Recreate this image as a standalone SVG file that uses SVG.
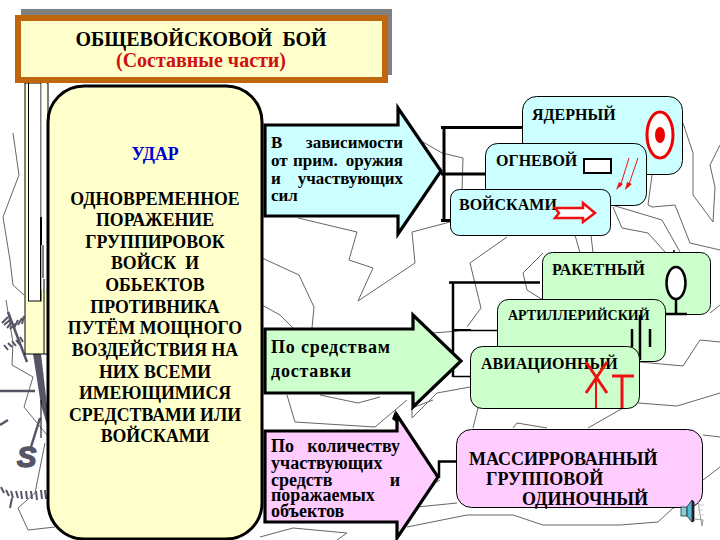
<svg xmlns="http://www.w3.org/2000/svg" width="720" height="540" viewBox="0 0 720 540">
<style>
text{font-family:"Liberation Serif","Times New Roman",serif;font-weight:bold;fill:#000}
.bg{fill:none;stroke:#666;stroke-width:1}
.mark{fill:none;stroke:#555566}
.conn{fill:none;stroke:#000}
.c{fill:#CCFFFF;stroke:#000;stroke-width:1}
.g{fill:#CCFFCC;stroke:#000;stroke-width:1}
.p{fill:#FFCCFF;stroke:#000;stroke-width:1}
.ar{stroke:#000;stroke-width:3.200;stroke-linejoin:miter}
.lb{font-size:16px}
.main{font-size:17.800px;text-anchor:middle}
.at{font-size:17px}
.aq{font-size:18px}
.red{fill:none;stroke:#EE1111}
</style>
<rect width="720" height="540" fill="#fff"/>
<g id="background">
<polyline class="bg" points="423,142 442,153 463,158 462,190"/>
<polyline class="bg" points="298,218 357,232 349,260 373,268 358,301 415,263 412,232 450,222"/>
<polyline class="bg" points="262,258 299,275 314,307 312,328"/>
<polyline class="bg" points="262,305 280,315 293,328"/>
<polyline class="bg" points="287,395 295,422 375,427 407,400"/>
<polyline class="bg" points="320,395 358,403 380,397"/>
<polyline class="bg" points="412,418 412,408 433,400"/>
<polyline class="bg" points="412,418 437,393 470,387"/>
<polyline class="bg" points="433,333 458,331"/>
<polyline class="bg" points="507,237 470,263 481,308 467,327"/>
<polyline class="bg" points="543,253 523,273 527,290 543,300"/>
<polyline class="bg" points="640,362 683,366 700,340 720,342"/>
<polyline class="bg" points="638,403 677,406 720,393"/>
<polyline class="bg" points="478,408 473,428"/>
<polyline class="bg" points="588,428 623,408"/>
<polyline class="bg" points="513,428 517,423 547,428"/>
<polyline class="bg" points="703,435 720,437"/>
<polyline class="bg" points="703,480 720,467"/>
<polyline class="bg" points="440,480 417,493"/>
<polyline class="bg" points="457,503 407,508"/>
<polyline class="bg" points="407,527 467,515 513,515 543,525 620,525 658,522 673,508 690,503"/>
<polyline class="bg" points="260,537 293,528 347,533 337,540"/>
<polyline class="bg" points="683,123 693,153 693,195 713,222 715,187 710,165 720,145"/>
<polyline class="bg" points="652,175 648,205 652,207 675,205 690,243 720,250"/>
<polyline class="bg" points="612,205 662,220 680,252"/>
<polyline class="bg" points="613,207 622,228 648,233 665,252"/>
<polyline class="bg" points="575,235 580,253"/>
<polyline class="bg" points="591,235 593,253"/>
<polyline class="bg" points="710,313 720,305"/>
<polyline class="bg" points="13,133 19,175 3,217 10,260 13,285 24,295"/>
<polyline class="bg" points="47,162 30,185 40,243 47,247"/>
<polyline class="bg" points="6,300 13,343 12,365 33,377 24,407 47,435"/>
<polyline class="bg" points="45,443 35,493 18,508 28,530 55,527"/>
<g id="compass">
<polygon points="33,354 41,354 47,405 47,425 41,405" fill="#555566"/>
<path class="mark" stroke-width="2.500" d="M0 391H35M0 425L8 420M40 418L31 447M8 312L27 362"/>
<path class="mark" stroke-width="2" d="M2 323L8 317M4 325L10 320M7 328L12 322M10 329L15 324M14 328L18 320M18 325L22 318M22 324L24 316M4 345L8 350M8 343L12 347M12 341L16 346M16 340L20 345M20 337L23 342M1 487L4 493M6 490L9 496M11 491L13 498M16 491L18 498M21 491L22 499M26 491L27 499M31 491L32 499M36 491L37 500M41 490L42 499M45 490L46 499M12 498L10 508"/>
<text x="17" y="467" font-size="29" style="font-family:'Liberation Sans',sans-serif;font-style:italic;fill:#555566;stroke:#555566;stroke-width:1.500">S</text>
</g>
<rect x="25" y="83" width="23" height="271" fill="#FFFFCC" stroke="#000"/>
<rect x="28.500" y="83" width="12.500" height="218" fill="#fff" stroke="#000"/>
<rect x="41.500" y="83" width="5" height="207" fill="#fff"/>
<path class="conn" stroke-width="1" d="M40.500 217V301M43 245V278M44 279V354"/>
<path class="conn" stroke-width="2" d="M41 217V245"/>
<path class="conn" stroke-width="1" d="M41 400V438"/>
<path d="M395 411L399 424L392 419Z" fill="#000"/>
</g>
<g id="title">
<rect x="21" y="9" width="371" height="66" fill="#808080"/>
<rect x="18" y="18" width="367" height="62" fill="#FFFFCC" stroke="#C0660F" stroke-width="6"/>
<text x="201" y="46" font-size="20" text-anchor="middle" xml:space="preserve">ОБЩЕВОЙСКОВОЙ  БОЙ</text>
<text x="201" y="67" font-size="20" text-anchor="middle" style="fill:#D01010">(Составные части)</text>
</g>
<g id="connectors">
<path class="conn" stroke-width="3" d="M441 127.500H523M444 127V222M441 174H486M441 220.500H451"/>
<path class="conn" stroke-width="2.500" d="M449 282.500H540M453 282V377"/>
<path class="conn" stroke-width="1.500" d="M453 330.500H501M453 376.500H473"/>
<path class="conn" stroke-width="2" d="M453 330H471"/>
<path class="conn" stroke-width="2.500" d="M439 478V461.500H458"/>
</g>
<g id="main-block">
<rect x="48" y="86" width="214" height="453" rx="36" ry="36" fill="#FFFFCC" stroke="#000" stroke-width="3"/>
<text class="main" x="155" y="160" style="fill:#0000CC">УДАР</text>
<text class="main" x="155" y="205">ОДНОВРЕМЕННОЕ</text>
<text class="main" x="155" y="226">ПОРАЖЕНИЕ</text>
<text class="main" x="155" y="248">ГРУППИРОВОК</text>
<text class="main" x="155" y="269" xml:space="preserve">ВОЙСК  И</text>
<text class="main" x="155" y="291">ОБЬЕКТОВ</text>
<text class="main" x="155" y="313">ПРОТИВНИКА</text>
<text class="main" x="155" y="334">ПУТЁМ МОЩНОГО</text>
<text class="main" x="155" y="356">ВОЗДЕЙСТВИЯ НА</text>
<text class="main" x="155" y="378">НИХ ВСЕМИ</text>
<text class="main" x="155" y="399">ИМЕЮЩИМИСЯ</text>
<text class="main" x="155" y="421">СРЕДСТВАМИ ИЛИ</text>
<text class="main" x="155" y="442">ВОЙСКАМИ</text>
</g>
<g id="arrow-weapon">
<polygon class="ar" fill="#CCFFFF" points="265,125 398,125 398,108 441,171 398,234 398,216 265,216"/>
<text class="at" x="271" y="148">В</text><text class="at" x="403" y="148" text-anchor="end">зависимости</text>
<text class="at" x="271" y="166">от</text><text class="at" x="293" y="166">прим.</text><text class="at" x="403" y="166" text-anchor="end">оружия</text>
<text class="at" x="271" y="184">и</text><text class="at" x="403" y="184" text-anchor="end">участвующих</text>
<text class="at" x="271" y="201">сил</text>
</g>
<g id="arrow-delivery">
<polygon class="ar" fill="#CCFFCC" points="265,329 413,329 413,315 461,361 413,407 413,393 265,393"/>
<text x="271" y="353" font-size="18" letter-spacing=".8">По средствам</text>
<text x="271" y="377" font-size="18" letter-spacing=".8">доставки</text>
</g>
<g id="arrow-quantity">
<polygon class="ar" fill="#FFCCFF" points="265,431 397,431 397,415 438,477 397,538 397,522 265,522"/>
<text class="aq" x="271" y="452">По</text><text class="aq" x="400" y="452" text-anchor="end">количеству</text>
<text class="aq" x="271" y="469">участвующих</text>
<text class="aq" x="271" y="486">средств</text><text class="aq" x="400" y="486" text-anchor="end">и</text>
<text class="aq" x="271" y="501">поражаемых</text>
<text class="aq" x="271" y="517">объектов</text>
</g>
<g id="node-nuclear">
<rect class="c" x="522.500" y="96.500" width="160" height="78" rx="14"/>
<text class="lb" x="532" y="120">ЯДЕРНЫЙ</text>
<ellipse cx="660" cy="135" rx="13" ry="23" fill="#fff" stroke="#EE0000" stroke-width="3"/>
<ellipse cx="660" cy="135" rx="5" ry="8" fill="#EE0000"/>
</g>
<g id="node-fire">
<rect class="c" x="485.500" y="143.500" width="161" height="62" rx="12"/>
<text class="lb" x="496" y="166">ОГНЕВОЙ</text>
<rect x="584" y="159" width="27" height="14" fill="#fff" stroke="#000" stroke-width="2"/>
<path class="red" d="M629 158L620 187M638 158L628 187"/>
<path fill="#EE1111" d="M616 190L619 182L623 184ZM625 190L627 182L632 184Z"/>
</g>
<g id="node-troops">
<rect class="c" x="450.500" y="189.500" width="160" height="46" rx="9"/>
<text class="lb" x="459" y="210">ВОЙСКАМИ</text>
<polygon points="555,208 583,208 583,203 595,213 583,222 583,218 555,218 559,213" fill="#fff" stroke="#EE1111" stroke-width="2.500"/>
</g>
<g id="node-missile">
<rect class="g" x="542.500" y="252.500" width="168" height="62" rx="10"/>
<text x="552" y="275" font-size="16">РАКЕТНЫЙ</text>
<ellipse cx="676" cy="283" rx="9.500" ry="16" fill="#fff" stroke="#000" stroke-width="2.500"/>
<path class="conn" stroke-width="2.500" d="M676 299V314M665 314H687"/>
<path class="conn" stroke-width="1.500" d="M674 250V253"/>
</g>
<g id="node-artillery">
<rect class="g" x="497.500" y="299.500" width="168" height="62" rx="11"/>
<text x="508" y="320" font-size="14">АРТИЛЛЕРИЙСКИЙ</text>
<path class="conn" stroke-width="2.500" d="M632 329V347M640 315V360M650 329V347"/>
</g>
<g id="node-aviation">
<rect class="g" x="470.500" y="346.500" width="169" height="62" rx="12"/>
<text class="lb" x="481" y="369">АВИАЦИОННЫЙ</text>
<path class="red" stroke-width="3" d="M586 362L607 393M607 362L586 393"/>
<path class="red" stroke-width="2" d="M596 378V408"/>
<path class="red" stroke-width="3" d="M612 376H634M622 376V408"/>
</g>
<g id="node-mass">
<rect class="p" x="456.500" y="429.500" width="246" height="78" rx="15"/>
<text x="469" y="465" font-size="18">МАССИРРОВАННЫЙ</text>
<text x="486" y="485" font-size="18">ГРУППОВОЙ</text>
<text x="522" y="505" font-size="18">ОДИНОЧНЫЙ</text>
</g>
<g id="speaker">
<polyline fill="none" stroke="#999" stroke-width="1" points="698,501 702,526 703,520 695,519"/>
<path d="M698 505H704M698 510H703M698 515H704" stroke="#ccc" fill="none"/>
<rect x="681" y="507" width="6" height="9" fill="#7FD0E0" stroke="#333" stroke-width=".8"/>
<polygon points="687,507 692,500 692,522 687,516" fill="#55B8D0" stroke="#222" stroke-width=".8"/>
<path d="M692 500L694 502V521L692 522" fill="#223" stroke="#111" stroke-width=".8"/>
</g>
</svg>
